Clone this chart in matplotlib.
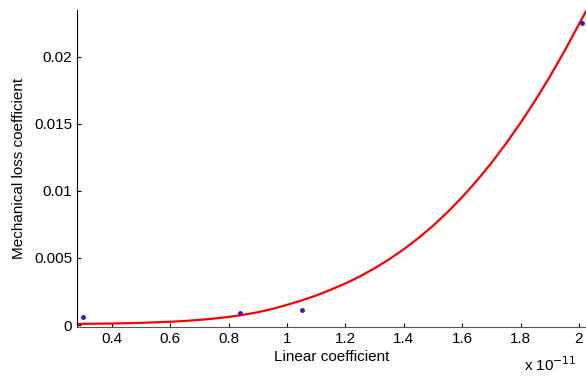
import matplotlib
matplotlib.use("Agg")
import matplotlib.pyplot as plt
from matplotlib.ticker import FuncFormatter

plt.rcParams['font.family'] = ['Liberation Sans', 'DejaVu Sans']

# measured points (x in units of 1e-11)
pts_x = [0.30, 0.84, 1.05, 2.01]
pts_y = [0.00062, 0.0009, 0.0011, 0.0225]

# fitted curve
fit_x = [0.28, 0.35, 0.4, 0.45, 0.5, 0.55, 0.6, 0.65, 0.7, 0.75, 0.8,
         0.85, 0.9, 0.95, 1.0, 1.05, 1.1, 1.15, 1.2, 1.25, 1.3, 1.35,
         1.4, 1.45, 1.5, 1.55, 1.6, 1.65, 1.7, 1.75, 1.8, 1.85, 1.9,
         1.95, 2.0, 2.025]
fit_y = [0.00008, 0.0001, 0.00011, 0.000135, 0.00016, 0.0002, 0.00024,
         0.0003, 0.00038, 0.00048, 0.0006, 0.00076, 0.00095, 0.0012,
         0.0015, 0.00183, 0.0022, 0.00263, 0.0031, 0.00363, 0.00423, 0.0049,
         0.00565, 0.00648, 0.0074, 0.00842, 0.00954, 0.01076, 0.01209,
         0.01353, 0.01508, 0.01674, 0.01852, 0.02042, 0.02244, 0.02345]

xticks = [0.4, 0.6, 0.8, 1.0, 1.2, 1.4, 1.6, 1.8, 2.0]
yticks = [0, 0.005, 0.01, 0.015, 0.02]

fig = plt.figure(figsize=(5.86, 3.76), dpi=100)
ax = fig.add_axes([0.1314, 0.131, 0.8686, 0.8426])

ax.plot(fit_x, fit_y, color='red', lw=1.6, zorder=2)
ax.plot(pts_x, pts_y, '.', color='#5010c0', ms=5, zorder=3)

ax.set_xlim(0.281, 2.024)
ax.set_ylim(-0.00013, 0.0235)
ax.set_xticks(xticks)
ax.set_yticks(yticks)
fmt = FuncFormatter(lambda v, p: '%g' % v)
ax.xaxis.set_major_formatter(fmt)
ax.yaxis.set_major_formatter(fmt)
ax.tick_params(direction='in', length=3, labelsize=11, width=0.8)

ax.spines['top'].set_visible(False)
ax.spines['right'].set_visible(False)
ax.spines['bottom'].set_color('#555555')

ax.set_xlabel('Linear coefficient', fontsize=11, labelpad=3)
ax.set_ylabel('Mechanical loss coefficient', fontsize=11, labelpad=6)
fig.text(0.895, 0.014, r'x 10$^{-11}$', fontsize=11)

fig.savefig('out.png', dpi=100)
